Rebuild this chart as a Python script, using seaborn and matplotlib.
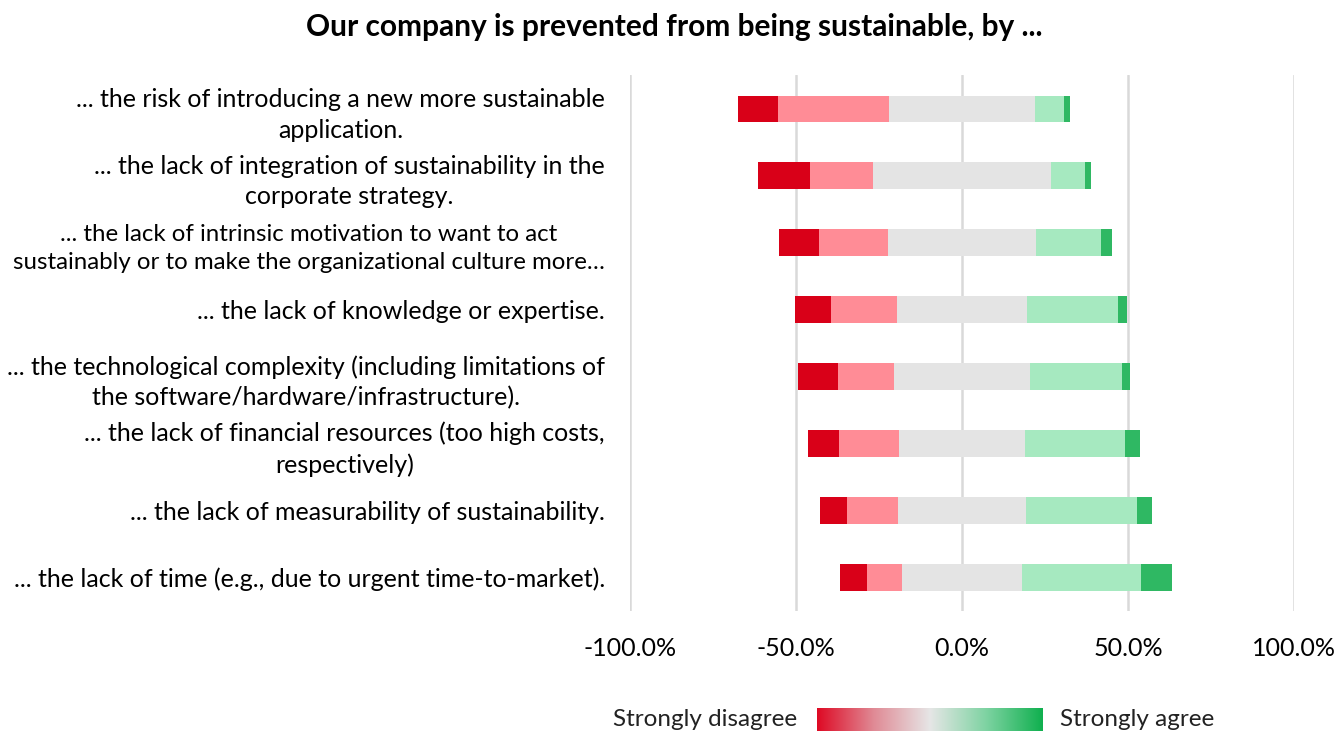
import numpy as np
import pandas as pd
import matplotlib
matplotlib.use("Agg")
import matplotlib.pyplot as plt
from matplotlib.colors import LinearSegmentedColormap
import seaborn as sns

# Survey statements (top to bottom)
statements = [
    "... the risk of introducing a new more sustainable\napplication.",
    "... the lack of integration of sustainability in the\ncorporate strategy.",
    "... the lack of intrinsic motivation to want to act\nsustainably or to make the organizational culture more…",
    "... the lack of knowledge or expertise.",
    "... the technological complexity (including limitations of\nthe software/hardware/infrastructure).",
    "... the lack of financial resources (too high costs,\nrespectively)",
    "... the lack of measurability of sustainability.",
    "... the lack of time (e.g., due to urgent time-to-market).",
]

# Share of answers per statement, in percent
strongly_disagree = [12.1, 15.4, 12.1, 10.8, 12.1, 9.5, 8.0, 8.1]
disagree = [33.5, 19.0, 20.9, 20.1, 16.8, 17.9, 15.5, 10.6]
neutral = [43.9, 53.8, 44.3, 39.0, 41.1, 38.1, 38.3, 36.1]
agree = [8.7, 10.0, 19.6, 27.5, 27.5, 29.9, 33.5, 35.9]
strongly_agree = [2.0, 2.0, 3.3, 2.6, 2.6, 4.6, 4.7, 9.3]

tick_values = [-100, -50, 0, 50, 100]
tick_labels = ["-100.0%", "-50.0%", "0.0%", "50.0%", "100.0%"]

title = "Our company is prevented from being sustainable, by ..."
legend_left = "Strongly disagree"
legend_right = "Strongly agree"

colors = {
    "sd": "#D90018",
    "d": "#FF8C96",
    "n": "#E4E4E4",
    "a": "#A6E9C0",
    "sa": "#2FB863",
}

df = pd.DataFrame({
    "statement": statements,
    "sd": strongly_disagree,
    "d": disagree,
    "n": neutral,
    "a": agree,
    "sa": strongly_agree,
})

# Cumulative extents measured outward from 0 (neutral split across the centre)
half_n = df["n"] / 2
df["neg_sd"] = -(half_n + df["d"] + df["sd"])
df["neg_d"] = -(half_n + df["d"])
df["neg_n"] = -half_n
df["pos_sa"] = half_n + df["a"] + df["sa"]
df["pos_a"] = half_n + df["a"]
df["pos_n"] = half_n

sns.set_theme(style="white")
plt.rcParams["font.family"] = ["Lato", "DejaVu Sans"]

fig = plt.figure(figsize=(13.35, 7.33), dpi=100)
ax = fig.add_axes([0.4719, 0.167, 0.4974, 0.730])

layers = [
    ("neg_sd", "sd"), ("neg_d", "d"), ("neg_n", "n"),
    ("pos_sa", "sa"), ("pos_a", "a"), ("pos_n", "n"),
]
for col, key in layers:
    sns.barplot(data=df, x=col, y="statement", orient="h", color=colors[key],
                width=0.4, linewidth=0, saturation=1, ax=ax, zorder=3)

ax.set_xlim(-100, 100)
ax.set_xticks(tick_values)
ax.set_xticklabels(tick_labels, fontsize=18)
ax.set_xlabel("")
ax.set_ylabel("")
ax.set_ylim(len(statements) - 0.5, -0.5)
ax.set_yticks(range(len(statements)))
ylabels = ax.set_yticklabels(statements, fontsize=18, multialignment="center",
                             color="#000000", linespacing=1.4)
# the longest wrapped label is set a little smaller so it fits the margin
ylabels[2].set_fontsize(17.3)
ax.tick_params(axis="y", length=0, pad=18)
ax.tick_params(axis="x", length=0, pad=19, colors="#000000")
for s in ax.spines.values():
    s.set_visible(False)
ax.grid(False)
for v in tick_values:
    ax.axvline(v, color="#D9D9D9", linewidth=1.8, zorder=1)

fig.text(0.5053, 0.963, title, ha="center", va="center",
         fontsize=21.5, fontweight="bold", color="#000000")

# Gradient legend strip
lax = fig.add_axes([817 / 1335, 1 - 731 / 733, 226 / 1335, 23 / 733])
cmap = LinearSegmentedColormap.from_list(
    "likert", ["#DE0A24", "#E08A95", "#E6E6E6", "#7ED3A2", "#10B04F"])
lax.imshow(np.linspace(0, 1, 256)[None, :], aspect="auto", cmap=cmap)
lax.set_axis_off()
fig.text(797 / 1335, 1 - 720 / 733, legend_left, ha="right", va="center",
         fontsize=17.5, color="#222222")
fig.text(1060 / 1335, 1 - 720 / 733, legend_right, ha="left", va="center",
         fontsize=17.5, color="#222222")

fig.savefig("out.png", dpi=100, facecolor="white")
